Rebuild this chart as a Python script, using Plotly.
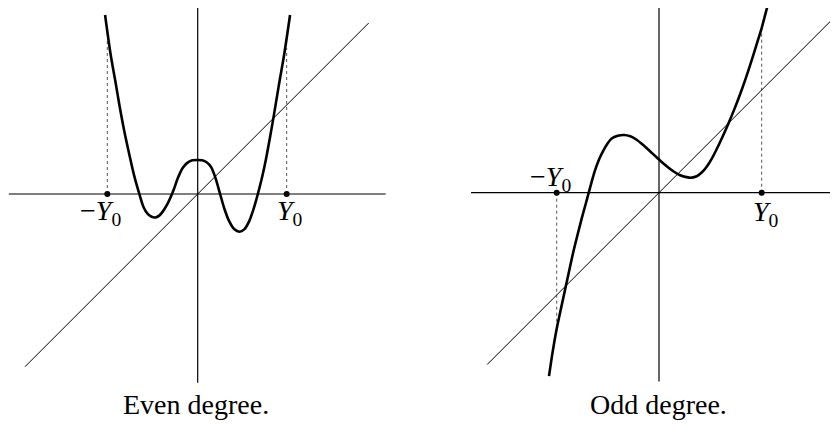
import plotly.graph_objects as go


# ==========================================================
# Data (units: Y0 of the left panel = 1)
# ==========================================================

# even degree polynomial
even_x = [-1.035, -0.972, -0.92, -0.875, -0.82, -0.763, -0.71, -0.652, -0.607,
          -0.559, -0.515, -0.473, -0.43, -0.391, -0.335, -0.287, -0.255, -0.223,
          -0.168, -0.12, -0.06, 0.0, 0.05, 0.1, 0.15, 0.2, 0.25, 0.3, 0.35,
          0.41, 0.466, 0.52, 0.577, 0.63, 0.672, 0.72, 0.762, 0.8, 0.845,
          0.905, 0.968, 1.032]
even_y = [2.0, 1.553, 1.26, 0.994, 0.70, 0.436, 0.205, 0.0, -0.142,
          -0.223, -0.255, -0.262, -0.242, -0.197, -0.104, 0.0, 0.085, 0.175,
          0.29, 0.345, 0.376, 0.38, 0.377, 0.355, 0.3, 0.175, 0.0, -0.17, -0.3,
          -0.395, -0.421, -0.395, -0.3, -0.15, 0.0, 0.19, 0.385, 0.59, 0.845,
          1.205, 1.57, 2.0]

# odd degree polynomial
odd_x = [-1.229, -1.19, -1.143, -1.09, -1.04, -1.0, -0.957, -0.91, -0.864,
         -0.83, -0.785, -0.75, -0.715, -0.67, -0.622, -0.575, -0.529, -0.46,
         -0.39, -0.32, -0.25, -0.17, -0.1, -0.03, 0.04, 0.1, 0.16, 0.23,
         0.309, 0.365, 0.421, 0.477, 0.533, 0.59, 0.644, 0.71, 0.777, 0.84,
         0.905, 0.97, 1.035, 1.09, 1.147, 1.21]
odd_y = [-2.05, -1.79, -1.52, -1.27, -1.04, -0.855, -0.66, -0.47, -0.29,
         -0.165, 0.0, 0.13, 0.25, 0.37, 0.47, 0.55, 0.605, 0.636,
         0.645, 0.63, 0.592, 0.527, 0.463, 0.398, 0.335, 0.285, 0.24, 0.198,
         0.174, 0.168, 0.184, 0.225, 0.29, 0.38, 0.485, 0.625, 0.777, 0.928,
         1.097, 1.281, 1.478, 1.655, 1.84, 2.078]

# axes and the line y = x
even_axis_h = [-2.11, 2.10]
even_axis_v = [-2.11, 2.10]
even_diag = [-1.93, 1.91]
odd_axis_h = [-2.10, 2.10]
odd_axis_v = [-2.11, 2.10]
odd_diag = [-1.92, 1.925]

# marked points +/- Y0 and the dotted drops to the curve
even_y0 = [-1.01, 0.994]
even_drop = [1.74, 1.63]
odd_y0 = [-1.143, 1.147]
odd_drop = [-1.50, 1.84]

captions = ["Even degree.", "Odd degree."]

SERIF = "Liberation Serif"
U = 89.5      # pixels per unit
OFF = 8       # page margin around the plot
W, H = 838 - OFF, 424 - OFF


def add_panel(fig, xa, ya, curve_x, curve_y, axis_h, axis_v, diag, y0s, drops):
    ax = dict(xaxis=xa, yaxis=ya)
    # dotted drops
    for x0, d in zip(y0s, drops):
        fig.add_trace(go.Scatter(x=[x0, x0], y=[0, d], mode="lines",
                                 line=dict(color="#555", width=1, dash="dot"), **ax))
    # axes
    fig.add_trace(go.Scatter(x=axis_h, y=[0, 0], mode="lines",
                             line=dict(color="black", width=1.2), **ax))
    fig.add_trace(go.Scatter(x=[0, 0], y=axis_v, mode="lines",
                             line=dict(color="black", width=1.2), **ax))
    # y = x
    fig.add_trace(go.Scatter(x=diag, y=diag, mode="lines",
                             line=dict(color="black", width=1), **ax))
    # polynomial
    fig.add_trace(go.Scatter(x=curve_x, y=curve_y, mode="lines",
                             line=dict(color="black", width=2.6, shape="spline", smoothing=0.8), **ax))
    # +/- Y0 dots
    fig.add_trace(go.Scatter(x=y0s, y=[0, 0], mode="markers",
                             marker=dict(color="black", size=6), **ax))


fig = go.Figure()

add_panel(fig, "x", "y", even_x, even_y, even_axis_h, even_axis_v,
          even_diag, even_y0, even_drop)
add_panel(fig, "x2", "y2", odd_x, odd_y, odd_axis_h, odd_axis_v,
          odd_diag, odd_y0, odd_drop)

lab = dict(showarrow=False, xanchor="center", yanchor="middle",
           font=dict(family=SERIF, size=28, color="black"))

fig.add_annotation(x=-1.09, y=-0.21, xref="x", yref="y", text="\u2212<i>Y</i><sub>0</sub>", **lab)
fig.add_annotation(x=1.03, y=-0.21, xref="x", yref="y", text="<i>Y</i><sub>0</sub>", **lab)
fig.add_annotation(x=-1.21, y=0.16, xref="x2", yref="y2", text="\u2212<i>Y</i><sub>0</sub>", **lab)
fig.add_annotation(x=1.2, y=-0.23, xref="x2", yref="y2", text="<i>Y</i><sub>0</sub>", **lab)

fig.add_annotation(x=(196 - OFF) / W, y=1 - (404 - OFF) / H, xref="paper", yref="paper",
                   text=captions[0], **lab)
fig.add_annotation(x=(658.7 - OFF) / W, y=1 - (404 - OFF) / H, xref="paper", yref="paper",
                   text=captions[1], **lab)

hidden = dict(visible=False, fixedrange=True)
split = (419 - OFF) / W

fig.update_layout(
    width=W,
    height=H,
    showlegend=False,
    paper_bgcolor="white",
    plot_bgcolor="white",
    margin=dict(l=0, r=0, t=0, b=0),
    xaxis=dict(domain=[0, split], range=[(OFF - 197.7) / U, (419 - 197.7) / U], **hidden),
    yaxis=dict(domain=[0, 1], range=[(194 - 424) / U, (194 - OFF) / U], **hidden),
    xaxis2=dict(domain=[split, 1], range=[(419 - 659) / U, (838 - 659) / U], anchor="y2", **hidden),
    yaxis2=dict(domain=[0, 1], range=[(192.7 - 424) / U, (192.7 - OFF) / U], anchor="x2", **hidden),
)

fig.write_html("out.html")
